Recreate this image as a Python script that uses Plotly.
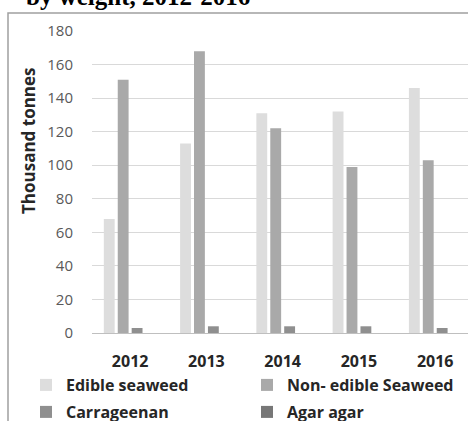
import plotly.graph_objects as go

years = ["2012", "2013", "2014", "2015", "2016"]
edible = [68, 113, 131, 132, 146]
non_edible = [151, 168, 122, 99, 103]
carrageenan = [3, 4, 4, 4, 3]
agar_agar = [0, 0, 0, 0, 0]
y_ticks = [0, 20, 40, 60, 80, 100, 120, 140, 160, 180]

series = [
    ("Edible seaweed", edible, "#dddddd", "legend"),
    ("Non- edible Seaweed", non_edible, "#a9a9a9", "legend"),
    ("Carrageenan", carrageenan, "#8f8f8f", "legend2"),
    ("Agar agar", agar_agar, "#777777", "legend2"),
]

fig = go.Figure()
for name, vals, col, lg in series:
    fig.add_trace(go.Bar(x=years, y=vals, name=name, marker_color=col,
                         marker_line_width=0, legend=lg))

# figure is slightly taller than the window; the extra strip below 421 px is clipped
W, H = 468, 445
L, R, T = 92, 0, 31
B = H - 333
pw, ph = W - L - R, H - T - B

def px(x):
    return (x - L) / pw

def py(y):
    return (H - B - y) / ph

leg_common = dict(orientation="h", xanchor="left", yanchor="middle",
                  entrywidth=176, entrywidthmode="pixels", itemwidth=30,
                  font=dict(family="Open Sans", size=16, color="#262626", weight="bold"),
                  bgcolor="rgba(0,0,0,0)", traceorder="normal")

fig.update_layout(
    width=W, height=H,
    margin=dict(l=L, r=R, t=T, b=B),
    paper_bgcolor="white", plot_bgcolor="white",
    barmode="group", bargap=0.27, bargroupgap=0.22,
    font=dict(family="Open Sans", size=15, color="#595959"),
    showlegend=True,
    legend=dict(x=px(31), y=py(385), **leg_common),
    legend2=dict(x=px(31), y=py(412), **leg_common),
    xaxis=dict(range=[-0.5, 4.43], showgrid=False, showline=True, linecolor="#bfbfbf",
               linewidth=1, ticks="", tickfont=dict(size=16, color="#262626", weight="bold"),
               ticklabelstandoff=14),
    yaxis=dict(range=[0, 180], tickvals=y_ticks, showgrid=True, gridcolor="#d9d9d9",
               gridwidth=1, zeroline=False, showline=False, ticks="",
               tickfont=dict(size=15, color="#595959"), ticklabelstandoff=18),
)

fig.add_annotation(text="Thousand tonnes", xref="paper", yref="paper",
                   x=px(28), y=py(141), textangle=-90, showarrow=False,
                   xanchor="center", yanchor="middle",
                   font=dict(family="Open Sans", size=17, color="#262626", weight="bold"))

fig.add_annotation(text="by weight, 2012\u20112016", xref="paper", yref="paper",
                   x=px(24), y=py(12), showarrow=False, xanchor="left", yanchor="bottom",
                   font=dict(family="Liberation Serif", size=25, color="black", weight="bold"))

fig.add_shape(type="rect", xref="paper", yref="paper",
              x0=px(8), x1=px(475), y0=py(450), y1=py(13),
              line=dict(color="#a0a0a0", width=1.5), fillcolor="rgba(0,0,0,0)", layer="below")

fig.write_html("out.html", config={"displayModeBar": False},
               post_script="document.body.style.margin='0';document.body.style.overflow='hidden';")
